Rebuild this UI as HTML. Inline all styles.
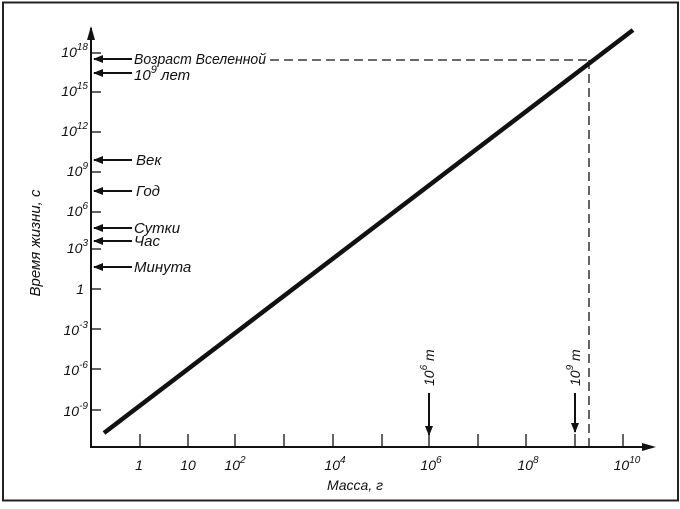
<!DOCTYPE html>
<html><head><meta charset="utf-8"><style>
html,body{margin:0;padding:0;background:#fff}
svg{display:block}
text{font-family:"Liberation Sans",sans-serif;font-style:italic;fill:#111}
</style></head><body>
<svg width="680" height="509" viewBox="0 0 680 509" xmlns="http://www.w3.org/2000/svg">
<defs>
<marker id="ah" markerWidth="10" markerHeight="8" refX="9" refY="4" orient="auto" markerUnits="userSpaceOnUse">
<path d="M0,0 L10,4 L0,8 Z" fill="#111"/></marker>
</defs>
<rect x="3" y="2.5" width="675" height="498" fill="none" stroke="#222" stroke-width="2"/>
<line x1="91" y1="447" x2="91" y2="28" stroke="#111" stroke-width="2"/>
<path d="M87,40 L91,26 L95,40 Z" fill="#111"/>
<line x1="90" y1="447" x2="652" y2="447" stroke="#111" stroke-width="2"/>
<path d="M642,443 L656,447 L642,451 Z" fill="#111"/>
<g stroke="#111" stroke-width="1.3">
<line x1="91" y1="53" x2="101" y2="53"/>
<line x1="91" y1="92" x2="101" y2="92"/>
<line x1="91" y1="132" x2="101" y2="132"/>
<line x1="91" y1="172" x2="101" y2="172"/>
<line x1="91" y1="212" x2="101" y2="212"/>
<line x1="91" y1="249" x2="101" y2="249"/>
<line x1="91" y1="289" x2="101" y2="289"/>
<line x1="91" y1="329" x2="101" y2="329"/>
<line x1="91" y1="369" x2="101" y2="369"/>
<line x1="91" y1="410" x2="101" y2="410"/>
</g>
<g font-size="14" text-anchor="end">
<text x="88" y="57">10<tspan font-size="10" dy="-7">18</tspan></text>
<text x="88" y="96">10<tspan font-size="10" dy="-7">15</tspan></text>
<text x="88" y="136">10<tspan font-size="10" dy="-7">12</tspan></text>
<text x="88" y="176">10<tspan font-size="10" dy="-7">9</tspan></text>
<text x="88" y="216">10<tspan font-size="10" dy="-7">6</tspan></text>
<text x="88" y="253">10<tspan font-size="10" dy="-7">3</tspan></text>
<text x="84" y="294">1</text>
<text x="88" y="335">10<tspan font-size="10" dy="-7">-3</tspan></text>
<text x="88" y="375">10<tspan font-size="10" dy="-7">-6</tspan></text>
<text x="88" y="416">10<tspan font-size="10" dy="-7">-9</tspan></text>
</g>
<g stroke="#111" stroke-width="1.3">
<line x1="140" y1="447" x2="140" y2="434"/>
<line x1="188" y1="447" x2="188" y2="434"/>
<line x1="235" y1="447" x2="235" y2="434"/>
<line x1="284" y1="447" x2="284" y2="434"/>
<line x1="333" y1="447" x2="333" y2="434"/>
<line x1="382" y1="447" x2="382" y2="434"/>
<line x1="429" y1="447" x2="429" y2="434"/>
<line x1="478" y1="447" x2="478" y2="434"/>
<line x1="526" y1="447" x2="526" y2="434"/>
<line x1="575" y1="447" x2="575" y2="434"/>
<line x1="623" y1="447" x2="623" y2="434"/>
</g>
<g font-size="14" text-anchor="middle">
<text x="139" y="470">1</text>
<text x="188" y="470">10</text>
<text x="235" y="470">10<tspan font-size="10" dy="-7">2</tspan></text>
<text x="335" y="470">10<tspan font-size="10" dy="-7">4</tspan></text>
<text x="431" y="470">10<tspan font-size="10" dy="-7">6</tspan></text>
<text x="528" y="470">10<tspan font-size="10" dy="-7">8</tspan></text>
<text x="627" y="470">10<tspan font-size="10" dy="-7">10</tspan></text>
</g>
<text x="355" y="490" font-size="14" text-anchor="middle">Масса, г</text>
<text transform="translate(40,243) rotate(-90)" font-size="15" text-anchor="middle">Время жизни, с</text>
<line x1="270" y1="60" x2="590" y2="60" stroke="#111" stroke-width="1.3" stroke-dasharray="9,5"/>
<line x1="589" y1="60" x2="589" y2="447" stroke="#111" stroke-width="1.3" stroke-dasharray="9,5"/>
<line x1="104" y1="433" x2="633" y2="30" stroke="#111" stroke-width="4.5"/>
<g stroke="#111" stroke-width="2" marker-end="url(#ah)">
<line x1="132" y1="59" x2="94" y2="59"/>
<line x1="132" y1="73" x2="94" y2="73"/>
<line x1="132" y1="160" x2="94" y2="160"/>
<line x1="132" y1="191" x2="94" y2="191"/>
<line x1="132" y1="228" x2="94" y2="228"/>
<line x1="132" y1="241" x2="94" y2="241"/>
<line x1="132" y1="267" x2="94" y2="267"/>
</g>
<g font-size="15">
<text x="134" y="64" textLength="132" lengthAdjust="spacingAndGlyphs">Возраст Вселенной</text>
<text x="134" y="80">10<tspan font-size="11" dy="-7">9</tspan><tspan dy="7"> лет</tspan></text>
<text x="136" y="165">Век</text>
<text x="136" y="196">Год</text>
<text x="134" y="233">Сутки</text>
<text x="134" y="246">Час</text>
<text x="134" y="272">Минута</text>
</g>
<g stroke="#111" stroke-width="2" marker-end="url(#ah)">
<line x1="429" y1="393" x2="429" y2="435"/>
<line x1="575" y1="393" x2="575" y2="432"/>
</g>
<text transform="translate(434,386) rotate(-90)" font-size="14">10<tspan font-size="10" dy="-7">6</tspan><tspan dy="7"> т</tspan></text>
<text transform="translate(580,386) rotate(-90)" font-size="14">10<tspan font-size="10" dy="-7">9</tspan><tspan dy="7"> т</tspan></text>
</svg>
</body></html>
